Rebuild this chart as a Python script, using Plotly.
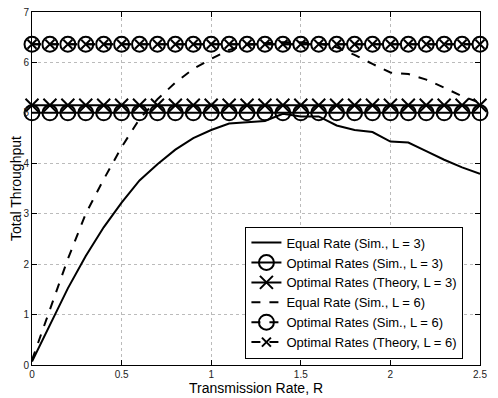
import plotly.graph_objects as go

# transmission rate R, 0 to 2.5 in steps of 0.1
rate = [round(0.1 * i, 1) for i in range(26)]

equal_l3 = [0.07, 0.80, 1.52, 2.16, 2.73, 3.22, 3.66, 3.98, 4.27, 4.50,
            4.66, 4.79, 4.82, 4.84, 4.98, 4.93, 4.93, 4.75, 4.66, 4.62,
            4.43, 4.41, 4.24, 4.07, 3.92, 3.79]
equal_l6 = [0.10, 1.10, 2.10, 3.00, 3.68, 4.32, 4.88, 5.27, 5.60, 5.87,
            6.07, 6.25, 6.35, 6.38, 6.40, 6.40, 6.38, 6.30, 6.15, 5.97,
            5.80, 5.77, 5.66, 5.50, 5.33, 5.20]
opt_sim_l3 = [5.00] * 26
opt_theory_l3 = [5.15] * 26
opt_sim_l6 = [6.36] * 26
opt_theory_l6 = [6.36] * 26

labels = [
    "Equal Rate (Sim., L = 3)",
    "Optimal Rates (Sim., L = 3)",
    "Optimal Rates (Theory, L = 3)",
    "Equal Rate (Sim., L = 6)",
    "Optimal Rates (Sim., L = 6)",
    "Optimal Rates (Theory, L = 6)",
]

fig = go.Figure()

# (values, dash, marker symbol, marker size)
series = [
    (equal_l3, "solid", None, 0),
    (opt_sim_l3, "solid", "circle-open", 15),
    (opt_theory_l3, "solid", "x-thin-open", 13),
    (equal_l6, "dash", None, 0),
    (opt_sim_l6, "dash", "circle-open", 15),
    (opt_theory_l6, "dash", "x-thin-open", 9),
]

for (vals, dash, sym, size), name in zip(series, labels):
    kw = dict(mode="lines")
    if sym:
        kw = dict(mode="lines+markers",
                  marker=dict(symbol=sym, size=size, color="black",
                              line=dict(color="black", width=2)))
    fig.add_trace(go.Scatter(
        x=rate, y=vals, name=name, cliponaxis=False,
        line=dict(color="black", width=2, dash=dash), **kw))

axis = dict(showline=True, linecolor="black", linewidth=1, mirror="ticks",
            ticks="inside", ticklen=5, tickcolor="black",
            showgrid=True, gridcolor="#bbbbbb", griddash="dot", gridwidth=1,
            zeroline=False, automargin=False, ticklabeloverflow="allow",
            tickfont=dict(size=10, color="#222"))

fig.update_xaxes(range=[0, 2.5], tickvals=[0, 0.5, 1, 1.5, 2, 2.5],
                 ticktext=["0", "0.5", "1", "1.5", "2", "2.5"],
                 title=dict(text="Transmission Rate, R", standoff=2,
                            font=dict(size=14, color="black")), **axis)
fig.update_yaxes(range=[0, 7], dtick=1,
                 title=dict(text="Total Throughput", standoff=1,
                            font=dict(size=14, color="black")), **axis)

# the page puts the figure ~8px in from the window corner, so size it to fit
fig.update_layout(
    width=490, height=390,
    margin=dict(l=24, r=18, t=4, b=33),
    paper_bgcolor="white", plot_bgcolor="white",
    font=dict(family="Liberation Sans, Arial, sans-serif", color="black"),
    legend=dict(x=0.963, y=0.018, xanchor="right", yanchor="bottom",
                bgcolor="white", bordercolor="black", borderwidth=1,
                font=dict(size=13), tracegroupgap=0, itemwidth=30),
)

fig.write_html("out.html")
